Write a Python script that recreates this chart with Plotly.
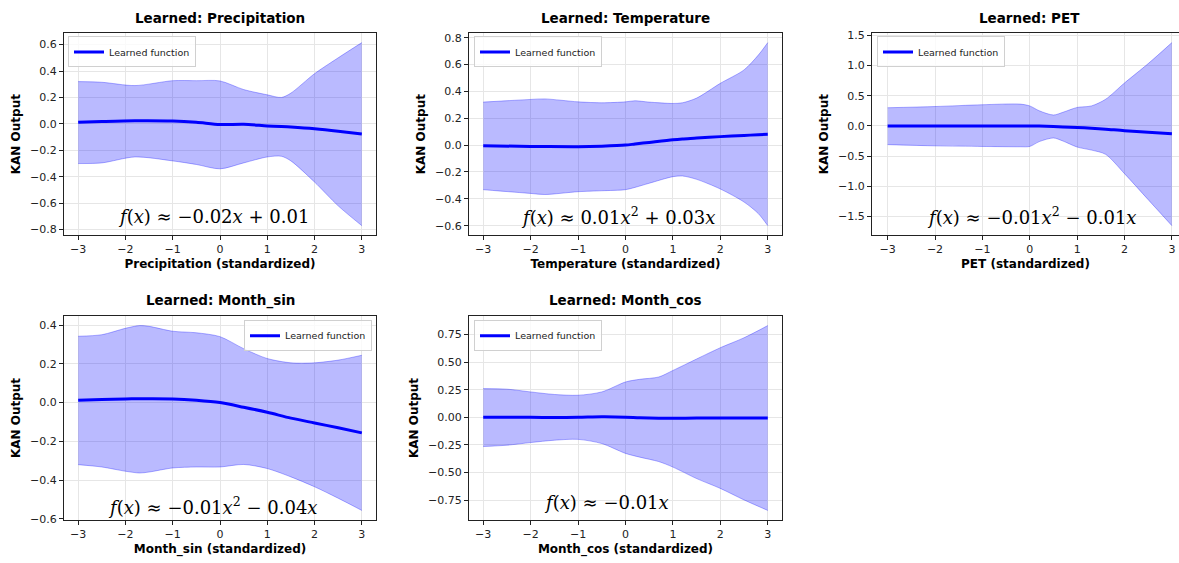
import plotly.graph_objects as go

W, H = 1179, 563

# ---------------- data ----------------
precip_x     = [-3, -2.5, -1.8, -1, -0.5, 0, 0.5, 1, 1.3, 1.5, 2, 2.5, 3]
precip_upper = [0.32, 0.315, 0.29, 0.327, 0.327, 0.325, 0.26, 0.22, 0.20, 0.233, 0.38, 0.50, 0.615]
precip_lower = [-0.30, -0.295, -0.25, -0.28, -0.307, -0.34, -0.295, -0.25, -0.245, -0.28, -0.44, -0.62, -0.77]
precip_mean  = [0.012, 0.018, 0.024, 0.022, 0.012, -0.005, -0.003, -0.015, -0.02, -0.024, -0.037, -0.055, -0.076]

temp_x     = [-3, -2, -1.7, -1, -0.5, 0, 0.2, 0.5, 1, 1.2, 1.5, 2, 2.5, 2.8, 3]
temp_upper = [0.32, 0.34, 0.344, 0.322, 0.315, 0.322, 0.33, 0.32, 0.31, 0.315, 0.35, 0.46, 0.56, 0.67, 0.763]
temp_lower = [-0.332, -0.36, -0.368, -0.347, -0.34, -0.332, -0.315, -0.284, -0.235, -0.23, -0.255, -0.327, -0.424, -0.51, -0.60]
temp_mean  = [-0.005, -0.01, -0.011, -0.012, -0.008, 0.0, 0.008, 0.02, 0.04, 0.046, 0.052, 0.063, 0.072, 0.077, 0.08]

pet_x     = [-3, -2, -1, -0.2, 0, 0.2, 0.5, 0.7, 1, 1.3, 1.6, 2, 2.5, 3]
pet_upper = [0.30, 0.32, 0.35, 0.36, 0.33, 0.25, 0.18, 0.225, 0.305, 0.33, 0.44, 0.71, 1.03, 1.377]
pet_lower = [-0.31, -0.33, -0.34, -0.345, -0.34, -0.26, -0.20, -0.25, -0.35, -0.40, -0.47, -0.79, -1.22, -1.65]
pet_mean  = [0.0, 0.0, 0.0, 0.0, 0.0, -0.003, -0.01, -0.017, -0.027, -0.038, -0.054, -0.08, -0.104, -0.128]

msin_x     = [-3, -2.5, -2, -1.7, -1.5, -1, -0.5, 0, 0.5, 1, 1.5, 2, 2.5, 3]
msin_upper = [0.342, 0.35, 0.383, 0.397, 0.393, 0.368, 0.36, 0.34, 0.278, 0.227, 0.205, 0.205, 0.219, 0.244]
msin_lower = [-0.32, -0.332, -0.354, -0.363, -0.358, -0.337, -0.332, -0.332, -0.319, -0.34, -0.383, -0.434, -0.493, -0.556]
msin_mean  = [0.012, 0.016, 0.019, 0.02, 0.02, 0.019, 0.012, 0.0, -0.024, -0.05, -0.08, -0.105, -0.13, -0.156]

mcos_x     = [-3, -2.5, -2, -1.5, -1, -0.5, 0, 0.3, 0.7, 1, 1.5, 2, 2.5, 3]
mcos_upper = [0.26, 0.255, 0.23, 0.207, 0.20, 0.23, 0.32, 0.344, 0.365, 0.424, 0.528, 0.63, 0.72, 0.83]
mcos_lower = [-0.264, -0.252, -0.228, -0.207, -0.199, -0.237, -0.326, -0.36, -0.40, -0.45, -0.554, -0.643, -0.747, -0.842]
mcos_mean  = [0.0, 0.0, 0.0, -0.002, 0.0, 0.005, 0.002, -0.004, -0.008, -0.008, -0.007, -0.006, -0.006, -0.005]

features = ["Precipitation", "Temperature", "PET", "Month_sin", "Month_cos"]
formulas = [
    "<i>f</i>(<i>x</i>) ≈ −0.02<i>x</i> + 0.01",
    "<i>f</i>(<i>x</i>) ≈ 0.01<i>x</i><sup>2</sup> + 0.03<i>x</i>",
    "<i>f</i>(<i>x</i>) ≈ −0.01<i>x</i><sup>2</sup> − 0.01<i>x</i>",
    "<i>f</i>(<i>x</i>) ≈ −0.01<i>x</i><sup>2</sup> − 0.04<i>x</i>",
    "<i>f</i>(<i>x</i>) ≈ −0.01<i>x</i>",
]
x_ticks = [-3, -2, -1, 0, 1, 2, 3]
y_ticks = [
    [-0.8, -0.6, -0.4, -0.2, 0.0, 0.2, 0.4, 0.6],
    [-0.6, -0.4, -0.2, 0.0, 0.2, 0.4, 0.6, 0.8],
    [-1.5, -1.0, -0.5, 0.0, 0.5, 1.0, 1.5],
    [-0.6, -0.4, -0.2, 0.0, 0.2, 0.4],
    [-0.75, -0.50, -0.25, 0.00, 0.25, 0.50, 0.75],
]
y_tickformat = [".1f", ".1f", ".1f", ".1f", ".2f"]

series = [
    (precip_x, precip_lower, precip_upper, precip_mean),
    (temp_x, temp_lower, temp_upper, temp_mean),
    (pet_x, pet_lower, pet_upper, pet_mean),
    (msin_x, msin_lower, msin_upper, msin_mean),
    (mcos_x, mcos_lower, mcos_upper, mcos_mean),
]

# ---------------- layout geometry (pixels) ----------------
px_x = [(64, 376), (469, 782), (872, 1179), (64, 376), (469, 782)]
px_y = [(30, 235), (30, 235), (30, 235), (318, 525), (318, 525)]
x_ranges = [[-3.3, 3.3], [-3.3, 3.3], [-3.33, 3.15], [-3.3, 3.3], [-3.3, 3.3]]
legend_pos = [(68, 33, "left"), (474, 33, "left"), (877, 33, "left"),
              (372, 322, "right"), (474, 322, "left")]
formula_pos = [(213, 216), (618, 216), (1032, 216), (213, 511), (606, 508)]

FILL = "rgba(0,0,255,0.27)"
EDGE = "rgba(0,0,255,0.30)"
FONT = "DejaVu Sans"

fig = go.Figure()
layout = dict(
    width=W, height=H, margin=dict(l=0, r=0, t=0, b=0),
    paper_bgcolor="white", plot_bgcolor="white",
    font=dict(family=FONT, color="#222", size=11),
    showlegend=True,
)
annotations = []

for i, (feat, (xs, lo, up, mn)) in enumerate(zip(features, series)):
    n = i + 1
    xa = "x" if n == 1 else f"x{n}"
    ya = "y" if n == 1 else f"y{n}"
    lg = "legend" if n == 1 else f"legend{n}"
    fig.add_trace(go.Scatter(x=xs, y=lo, mode="lines", line=dict(color=EDGE, width=1, shape="spline", smoothing=0.8),
                             xaxis=xa, yaxis=ya, showlegend=False, hoverinfo="skip"))
    fig.add_trace(go.Scatter(x=xs, y=up, mode="lines", line=dict(color=EDGE, width=1, shape="spline", smoothing=0.8),
                             fill="tonexty", fillcolor=FILL,
                             xaxis=xa, yaxis=ya, showlegend=False, hoverinfo="skip"))
    fig.add_trace(go.Scatter(x=xs, y=mn, mode="lines", name="Learned function",
                             line=dict(color="blue", width=3, shape="spline", smoothing=0.8),
                             xaxis=xa, yaxis=ya, legend=lg, showlegend=True))

    dmin, dmax = min(lo), max(up)
    pad = 0.05 * (dmax - dmin)
    x0, x1 = px_x[i]
    y0, y1 = px_y[i]
    xk = "xaxis" if n == 1 else f"xaxis{n}"
    yk = "yaxis" if n == 1 else f"yaxis{n}"
    layout[xk] = dict(
        domain=[x0 / W, x1 / W], range=x_ranges[i], anchor=ya,
        tickvals=x_ticks, ticktext=[("−" + str(-v)) if v < 0 else str(v) for v in x_ticks],
        showgrid=True, gridcolor="#e6e6e6", gridwidth=1, zeroline=False,
        showline=True, linecolor="#222", linewidth=1, mirror=True,
        ticks="outside", ticklen=4, tickcolor="#222",
        tickfont=dict(size=11, color="#222"),
        title=dict(text=f"<b>{feat} (standardized)</b>", font=dict(size=12, color="black"), standoff=4),
    )
    layout[yk] = dict(
        domain=[1 - y1 / H, 1 - y0 / H], range=[dmin - pad, dmax + pad], anchor=xa,
        tickvals=y_ticks[i], tickformat=y_tickformat[i],
        showgrid=True, gridcolor="#e6e6e6", gridwidth=1, zeroline=False,
        showline=True, linecolor="#222", linewidth=1, mirror=(n != 3),
        ticks="outside", ticklen=4, tickcolor="#222",
        tickfont=dict(size=11, color="#222"),
        title=dict(text="<b>KAN Output</b>", font=dict(size=12, color="black"), standoff=6),
    )
    # legend
    lx, ly, anc = legend_pos[i]
    layout[lg] = dict(
        x=lx / W, y=1 - ly / H, xanchor=anc, yanchor="top",
        bgcolor="rgba(255,255,255,0.8)", bordercolor="#d0d0d0", borderwidth=1,
        font=dict(size=9.5, color="#222"), itemwidth=30, tracegroupgap=0,
    )
    # subplot title
    annotations.append(dict(
        text=f"<b>Learned: {feat}</b>", x=(x0 + x1) / 2 / W if n != 3 else (x0 + 1186) / 2 / W,
        y=1 - (y0 - 16) / H, xref="paper", yref="paper", showarrow=False,
        xanchor="center", yanchor="middle", font=dict(size=13.5, color="black", family=FONT)))
    # formula text
    fx, fy = formula_pos[i]
    annotations.append(dict(
        text=formulas[i], x=fx / W, y=1 - fy / H, xref="paper", yref="paper", showarrow=False,
        xanchor="center", yanchor="middle", font=dict(size=18, color="black", family="DejaVu Serif")))

layout["annotations"] = annotations
fig.update_layout(**layout)
fig.write_html(
    "out.html",
    config={"displayModeBar": False},
    post_script="document.body.style.margin='0';document.body.style.overflow='hidden';",
)
